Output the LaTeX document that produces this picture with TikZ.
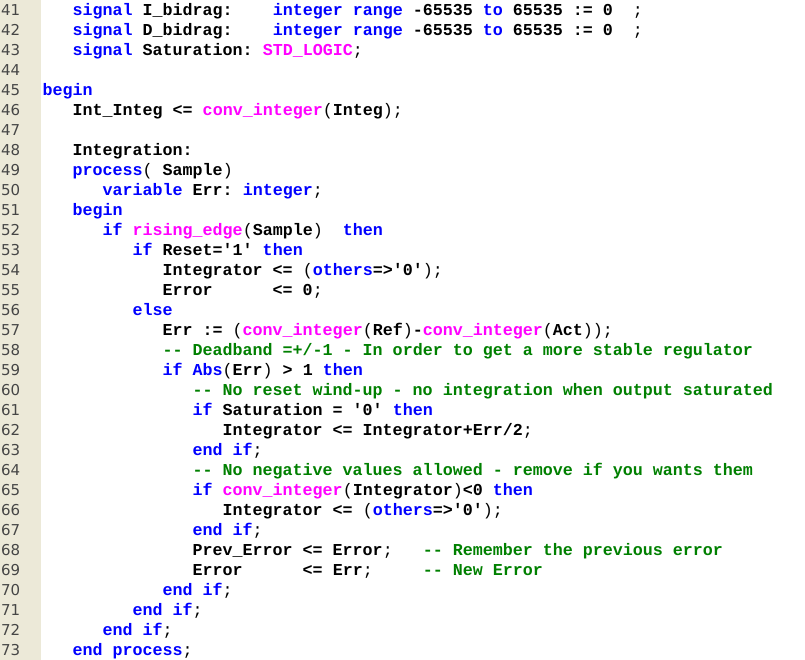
\documentclass[tikz,border=0pt]{standalone}
\usepackage{fontspec}
\setmonofont{Liberation Mono}
\newfontfamily\numfont{DejaVu Sans}
\definecolor{gutterbg}{RGB}{236,233,216}
\definecolor{numgray}{RGB}{70,70,70}
\definecolor{kwblue}{RGB}{0,0,255}
\definecolor{fnmag}{RGB}{255,0,255}
\definecolor{cmgreen}{RGB}{0,128,0}
\newcommand\kw[1]{\textcolor{kwblue}{#1}}
\newcommand\fn[1]{\textcolor{fnmag}{#1}}
\newcommand\cm[1]{\textcolor{cmgreen}{#1}}
\newcommand\pn[1]{{\mdseries #1}}
\newcommand\codeline[3]{\node[codetxt] (c#1) at ({42.5+10*#2},{644-20*(#1-41)}) {#3};}
\tikzset{
  codetxt/.style={anchor=base west, inner sep=0pt, font=\ttfamily\bfseries\fontsize{16.67}{20}\selectfont},
  linenum/.style={anchor=base west, inner sep=0pt, text=numgray, font=\numfont\fontsize{15}{18}\selectfont}
}
\begin{document}
\begin{tikzpicture}[x=1pt,y=1pt]
\useasboundingbox (0,0) rectangle (805,660);
\fill[white] (0,0) rectangle (805,660);
\fill[gutterbg] (0,0) rectangle (40.5,660);
\foreach \n in {41,...,73} {
  \node[linenum] (n\n) at (1,{644-20*(\n-41)}) {\n};
}
\codeline{41}{3}{\kw{signal}~I\_bidrag:~~~~\kw{integer}~\kw{range}~-65535~\kw{to}~65535~:=~0~~\pn{;}}
\codeline{42}{3}{\kw{signal}~D\_bidrag:~~~~\kw{integer}~\kw{range}~-65535~\kw{to}~65535~:=~0~~\pn{;}}
\codeline{43}{3}{\kw{signal}~Saturation:~\fn{STD\_LOGIC}\pn{;}}
\codeline{45}{0}{\kw{begin}}
\codeline{46}{3}{Int\_Integ~<=~\fn{conv\_integer}\pn{(}Integ\pn{)}\pn{;}}
\codeline{48}{3}{Integration:}
\codeline{49}{3}{\kw{process}\pn{(}~Sample\pn{)}}
\codeline{50}{6}{\kw{variable}~Err:~\kw{integer}\pn{;}}
\codeline{51}{3}{\kw{begin}}
\codeline{52}{6}{\kw{if}~\fn{rising\_edge}\pn{(}Sample\pn{)}~~\kw{then}}
\codeline{53}{9}{\kw{if}~Reset='1'~\kw{then}}
\codeline{54}{12}{Integrator~<=~\pn{(}\kw{others}=>'0'\pn{)}\pn{;}}
\codeline{55}{12}{Error~~~~~~<=~0\pn{;}}
\codeline{56}{9}{\kw{else}}
\codeline{57}{12}{Err~:=~\pn{(}\fn{conv\_integer}\pn{(}Ref\pn{)}-\fn{conv\_integer}\pn{(}Act\pn{)}\pn{)}\pn{;}}
\codeline{58}{12}{\cm{-{}-~Deadband~=+/-1~-~In~order~to~get~a~more~stable~regulator}}
\codeline{59}{12}{\kw{if}~\kw{Abs}\pn{(}Err\pn{)}~>~1~\kw{then}}
\codeline{60}{15}{\cm{-{}-~No~reset~wind-up~-~no~integration~when~output~saturated}}
\codeline{61}{15}{\kw{if}~Saturation~=~'0'~\kw{then}}
\codeline{62}{18}{Integrator~<=~Integrator+Err/2\pn{;}}
\codeline{63}{15}{\kw{end}~\kw{if}\pn{;}}
\codeline{64}{15}{\cm{-{}-~No~negative~values~allowed~-~remove~if~you~wants~them}}
\codeline{65}{15}{\kw{if}~\fn{conv\_integer}\pn{(}Integrator\pn{)}<0~\kw{then}}
\codeline{66}{18}{Integrator~<=~\pn{(}\kw{others}=>'0'\pn{)}\pn{;}}
\codeline{67}{15}{\kw{end}~\kw{if}\pn{;}}
\codeline{68}{15}{Prev\_Error~<=~Error\pn{;}~~~\cm{-{}-~Remember~the~previous~error}}
\codeline{69}{15}{Error~~~~~~<=~Err\pn{;}~~~~~\cm{-{}-~New~Error}}
\codeline{70}{12}{\kw{end}~\kw{if}\pn{;}}
\codeline{71}{9}{\kw{end}~\kw{if}\pn{;}}
\codeline{72}{6}{\kw{end}~\kw{if}\pn{;}}
\codeline{73}{3}{\kw{end}~\kw{process}\pn{;}}
\end{tikzpicture}
\end{document}
